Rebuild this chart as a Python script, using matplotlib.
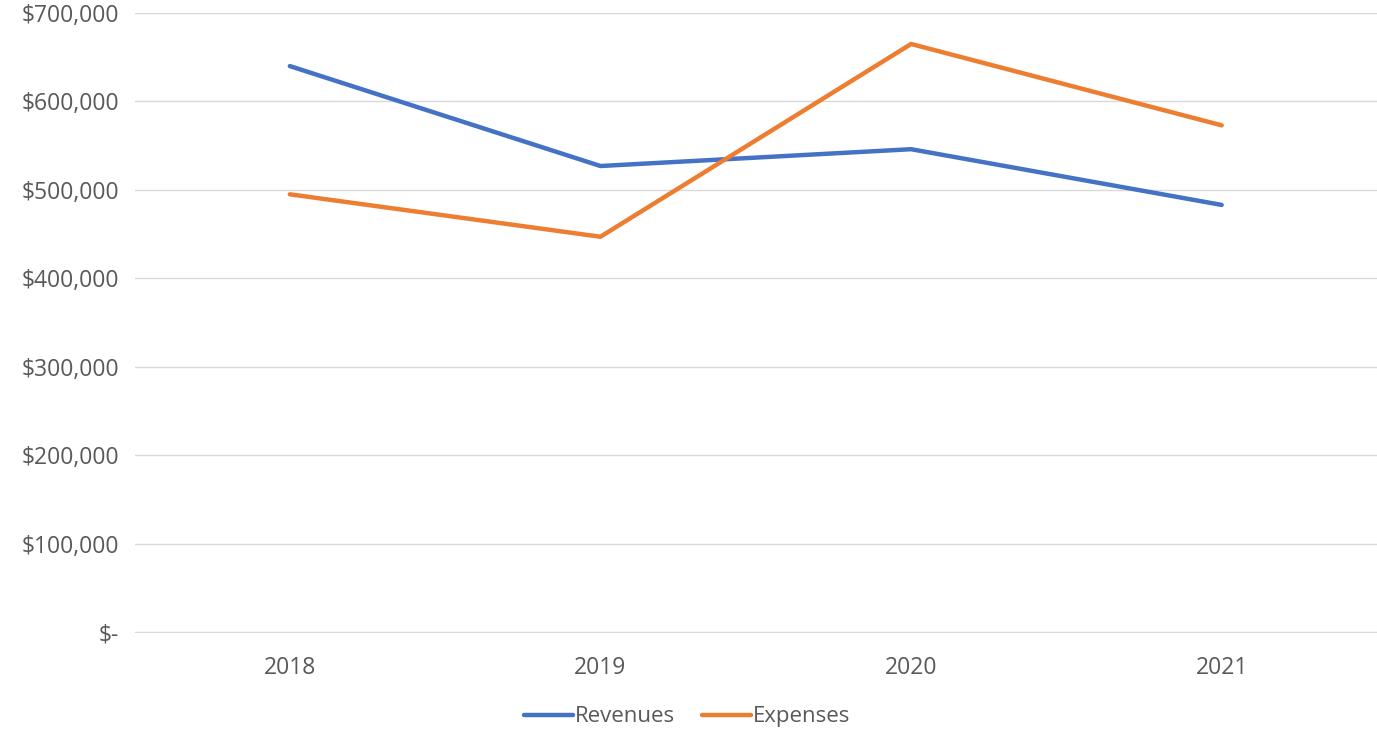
import matplotlib.pyplot as plt
from matplotlib.ticker import FuncFormatter

years = ["2018", "2019", "2020", "2021"]
revenues = [640000, 527000, 546000, 483000]
expenses = [495000, 447000, 665000, 573000]

plt.rcParams['font.family'] = ['Open Sans', 'DejaVu Sans']

fig = plt.figure(figsize=(13.77, 7.32), dpi=100)
ax = fig.add_axes([0.0977, 0.1366, 0.9023, 0.8456])

x = range(len(years))
ax.plot(x, revenues, color='#4472C4', lw=3.2, label='Revenues', solid_capstyle='round')
ax.plot(x, expenses, color='#ED7D31', lw=3.2, label='Expenses', solid_capstyle='round')

ax.set_xlim(-0.5, 3.5)
ax.set_ylim(0, 700000)
ax.set_yticks(range(0, 700001, 100000))
ax.yaxis.set_major_formatter(FuncFormatter(lambda v, p: '$-' if v == 0 else f'${v:,.0f}'))
ax.set_xticks(list(x))
ax.set_xticklabels(years)

ax.grid(axis='y', color='#D9D9D9', lw=1)
ax.set_axisbelow(True)
for s in ['top', 'right', 'left']:
    ax.spines[s].set_visible(False)
ax.spines['bottom'].set_color('#D9D9D9')
ax.tick_params(axis='both', length=0, labelsize=16.5, colors='#595959')
ax.tick_params(axis='x', pad=17)
ax.tick_params(axis='y', pad=11)

leg = ax.legend(loc='upper center', bbox_to_anchor=(0.445, -0.088), ncol=2, frameon=False,
                fontsize=16, handlelength=2.2, columnspacing=1.2, handletextpad=0.1)
for t in leg.get_texts():
    t.set_color('#595959')

fig.savefig('out.png', dpi=100)
